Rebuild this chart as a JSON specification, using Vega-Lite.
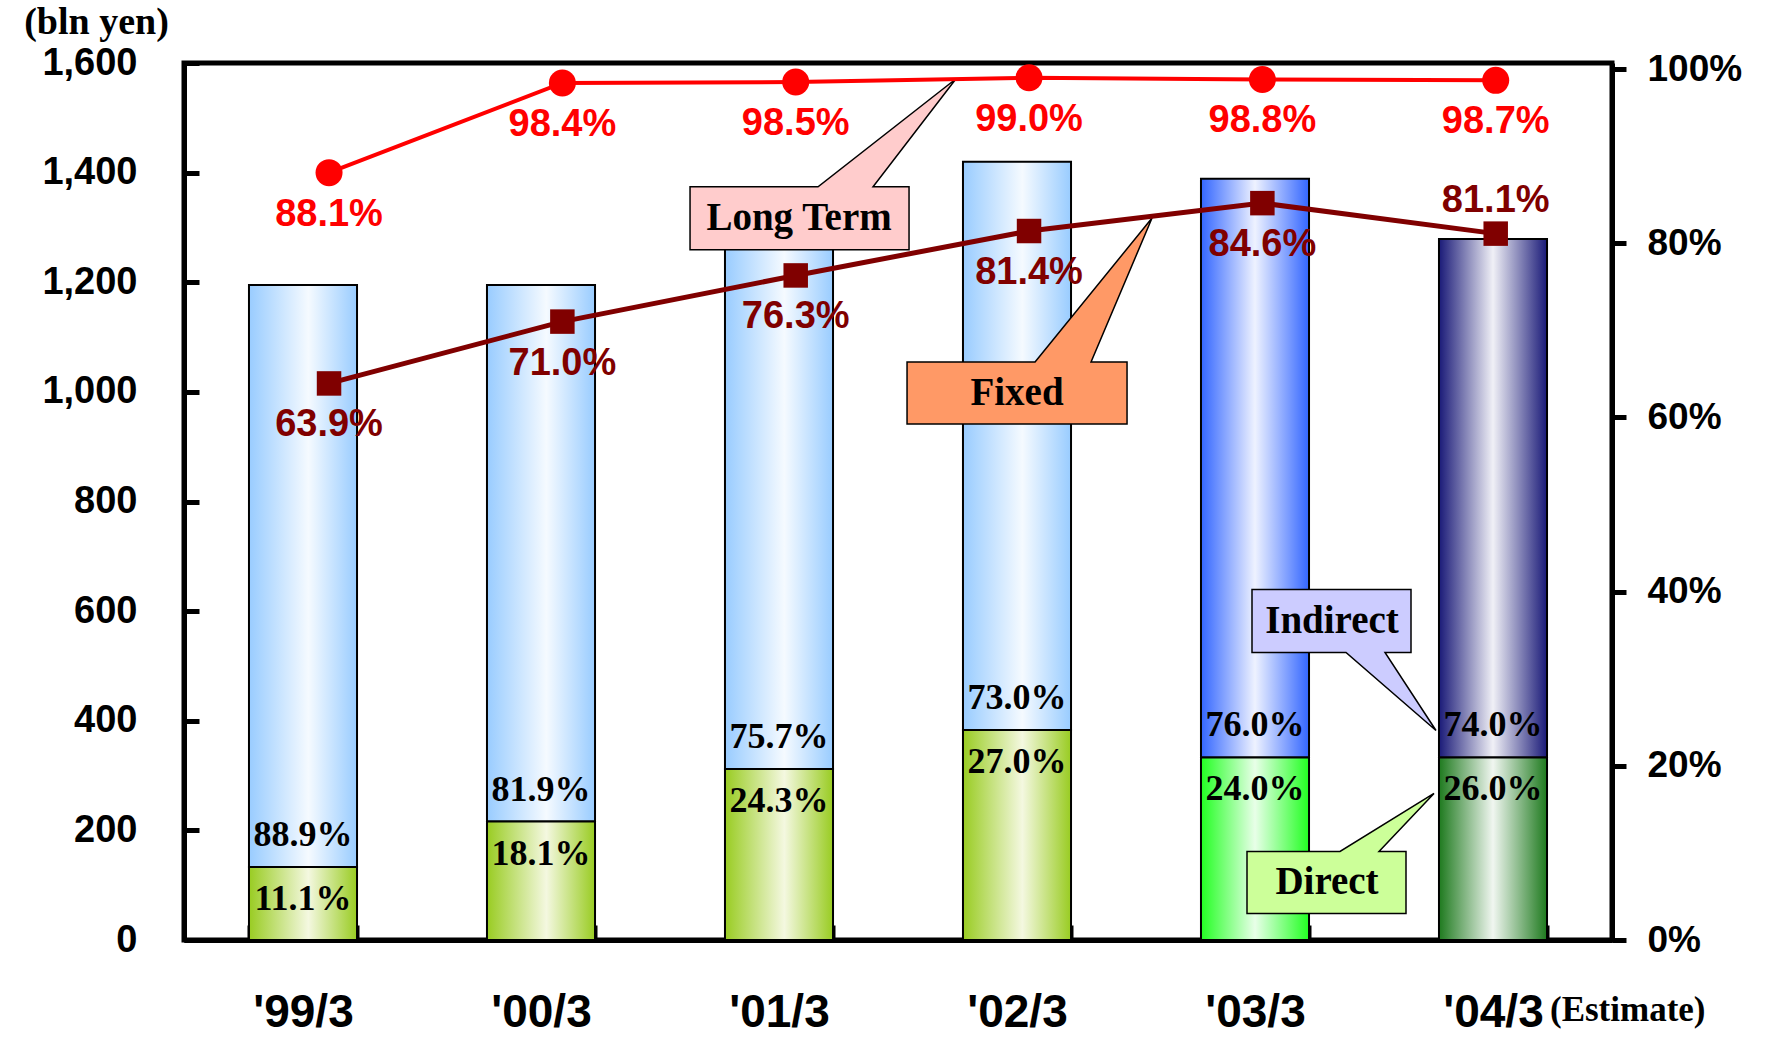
{
  "$schema": "https://vega.github.io/schema/vega-lite/v6.json",
  "width": 1428,
  "height": 877,
  "autosize": {"type": "none"},
  "padding": {"left": 184, "top": 63, "right": 155, "bottom": 100},
  "background": "white",
  "config": {"view": {"stroke": "black", "strokeWidth": 5}, "axis": {"grid": false}},
  "data": {
    "values": [
      {"year": "'99/3", "direct": 133, "indirect": 1062, "dpct": 0.111, "ipct": 0.889, "longterm": 0.881, "fixed": 0.639},
      {"year": "'00/3", "direct": 216, "indirect": 979, "dpct": 0.181, "ipct": 0.819, "longterm": 0.984, "fixed": 0.710},
      {"year": "'01/3", "direct": 312, "indirect": 973, "dpct": 0.243, "ipct": 0.757, "longterm": 0.985, "fixed": 0.763},
      {"year": "'02/3", "direct": 383, "indirect": 1037, "dpct": 0.270, "ipct": 0.730, "longterm": 0.990, "fixed": 0.814},
      {"year": "'03/3", "direct": 333, "indirect": 1056, "dpct": 0.240, "ipct": 0.760, "longterm": 0.988, "fixed": 0.846},
      {"year": "'04/3", "direct": 333, "indirect": 946, "dpct": 0.260, "ipct": 0.740, "longterm": 0.987, "fixed": 0.811}
    ]
  },
  "layer": [
    {
      "encoding": {
        "x": {
          "field": "year",
          "type": "nominal",
          "scale": {"domain": ["'99/3", "'00/3", "'01/3", "'02/3", "'03/3", "'04/3"], "paddingInner": 0.546, "paddingOuter": 0.273},
          "axis": {
            "title": null,
            "labelAngle": 0,
            "domainColor": "black",
            "domainWidth": 5,
            "tickColor": "black",
            "tickWidth": 4,
            "tickSize": -15,
            "tickBand": "extent",
            "labelFont": "Liberation Sans",
            "labelFontWeight": "bold",
            "labelFontSize": 46,
            "labelColor": "black",
            "labelBaseline": "middle",
            "labelPadding": 87
          }
        }
      },
      "layer": [
        {
          "transform": [
            {"fold": ["direct", "indirect"], "as": ["seg", "amount"]},
            {"stack": "amount", "groupby": ["year"], "sort": [{"field": "seg"}], "as": ["y0", "y1"]}
          ],
          "encoding": {
            "y": {
              "field": "y1",
              "type": "quantitative",
              "scale": {"domain": [0, 1600], "nice": false},
              "axis": {
                "title": "(bln yen)",
                "titleAngle": 0,
                "titleFont": "Liberation Serif",
                "titleFontSize": 38,
                "titleFontWeight": "bold",
                "titleColor": "black",
                "titleX": -88,
                "titleY": -41,
                "titleAlign": "center",
                "titleBaseline": "middle",
                "values": [0, 200, 400, 600, 800, 1000, 1200, 1400, 1600],
                "labelExpr": "format(datum.value, ',')",
                "labelFont": "Liberation Sans",
                "labelFontSize": 38,
                "labelFontWeight": "bold",
                "labelColor": "black",
                "labelFlush": false,
                "labelOverlap": false,
                "labelBaseline": "middle",
                "domainColor": "black",
                "domainWidth": 5,
                "tickColor": "black",
                "tickWidth": 5,
                "tickSize": -15,
                "labelPadding": 62
              }
            },
            "y2": {"field": "y0"}
          },
          "layer": [
            {
              "transform": [{"filter": "datum.seg == 'indirect' && indexof(['\\'99/3','\\'00/3','\\'01/3','\\'02/3'], datum.year) >= 0"}],
              "mark": {"type": "bar", "stroke": "black", "strokeWidth": 2,
                "color": {"gradient": "linear", "x1": 0, "y1": 0, "x2": 1, "y2": 0,
                  "stops": [{"offset": 0, "color": "#99CCFF"}, {"offset": 0.55, "color": "#F5FAFF"}, {"offset": 1, "color": "#99CCFF"}]}}
            },
            {
              "transform": [{"filter": "datum.seg == 'direct' && indexof(['\\'99/3','\\'00/3','\\'01/3','\\'02/3'], datum.year) >= 0"}],
              "mark": {"type": "bar", "stroke": "black", "strokeWidth": 2,
                "color": {"gradient": "linear", "x1": 0, "y1": 0, "x2": 1, "y2": 0,
                  "stops": [{"offset": 0, "color": "#99CC22"}, {"offset": 0.55, "color": "#F4F8E0"}, {"offset": 1, "color": "#99CC22"}]}}
            },
            {
              "transform": [{"filter": "datum.seg == 'indirect' && datum.year == '\\'03/3'"}],
              "mark": {"type": "bar", "stroke": "black", "strokeWidth": 2,
                "color": {"gradient": "linear", "x1": 0, "y1": 0, "x2": 1, "y2": 0,
                  "stops": [{"offset": 0, "color": "#3366FF"}, {"offset": 0.5, "color": "#EEF2FF"}, {"offset": 1, "color": "#3366FF"}]}}
            },
            {
              "transform": [{"filter": "datum.seg == 'direct' && datum.year == '\\'03/3'"}],
              "mark": {"type": "bar", "stroke": "black", "strokeWidth": 2,
                "color": {"gradient": "linear", "x1": 0, "y1": 0, "x2": 1, "y2": 0,
                  "stops": [{"offset": 0, "color": "#22FF22"}, {"offset": 0.5, "color": "#E8FFE8"}, {"offset": 1, "color": "#22FF22"}]}}
            },
            {
              "transform": [{"filter": "datum.seg == 'indirect' && datum.year == '\\'04/3'"}],
              "mark": {"type": "bar", "stroke": "black", "strokeWidth": 2,
                "color": {"gradient": "linear", "x1": 0, "y1": 0, "x2": 1, "y2": 0,
                  "stops": [{"offset": 0, "color": "#1A1A78"}, {"offset": 0.5, "color": "#F0F0F6"}, {"offset": 1, "color": "#1A1A78"}]}}
            },
            {
              "transform": [{"filter": "datum.seg == 'direct' && datum.year == '\\'04/3'"}],
              "mark": {"type": "bar", "stroke": "black", "strokeWidth": 2,
                "color": {"gradient": "linear", "x1": 0, "y1": 0, "x2": 1, "y2": 0,
                  "stops": [{"offset": 0, "color": "#1E7A1E"}, {"offset": 0.5, "color": "#F0F6F0"}, {"offset": 1, "color": "#1E7A1E"}]}}
            }
          ]
        },
        {
          "mark": {"type": "text", "font": "Liberation Serif", "fontWeight": "bold", "fontSize": 36, "color": "black", "align": "center", "baseline": "middle", "dy": -32},
          "encoding": {
            "y": {"field": "direct", "type": "quantitative"},
            "text": {"field": "ipct", "type": "quantitative", "format": ".1%"}
          }
        },
        {
          "mark": {"type": "text", "font": "Liberation Serif", "fontWeight": "bold", "fontSize": 36, "color": "black", "align": "center", "baseline": "middle", "dy": 32},
          "encoding": {
            "y": {"field": "direct", "type": "quantitative"},
            "text": {"field": "dpct", "type": "quantitative", "format": ".1%"}
          }
        },
        {
          "transform": [{"filter": "datum.year == '\\'04/3'"}],
          "mark": {"type": "point", "filled": true, "opacity": 1, "size": 4, "fill": "#CCCCFF", "stroke": "black", "strokeWidth": 1.5,
            "shape": "M -241 -168 L -82 -168 L -82 -105 L -108 -105 L -57 -27 L -147 -105 L -241 -105 Z"},
          "encoding": {"y": {"field": "direct", "type": "quantitative"}}
        },
        {
          "transform": [{"filter": "datum.year == '\\'04/3'"}],
          "mark": {"type": "point", "filled": true, "opacity": 1, "size": 4, "fill": "#CCFF99", "stroke": "black", "strokeWidth": 1.5,
            "shape": "M -246 94 L -153 94 L -59 36 L -114 94 L -87 94 L -87 156 L -246 156 Z"},
          "encoding": {"y": {"field": "direct", "type": "quantitative"}}
        },
        {
          "transform": [{"filter": "datum.year == '\\'04/3'"}],
          "mark": {"type": "text", "text": "Indirect", "font": "Liberation Serif", "fontWeight": "bold", "fontSize": 39, "color": "black", "align": "center", "baseline": "middle", "dx": -161, "dy": -136},
          "encoding": {"y": {"field": "direct", "type": "quantitative"}}
        },
        {
          "transform": [{"filter": "datum.year == '\\'04/3'"}],
          "mark": {"type": "text", "text": "Direct", "font": "Liberation Serif", "fontWeight": "bold", "fontSize": 39, "color": "black", "align": "center", "baseline": "middle", "dx": -166, "dy": 125},
          "encoding": {"y": {"field": "direct", "type": "quantitative"}}
        },
        {
          "transform": [{"filter": "datum.year == '\\'04/3'"}],
          "mark": {"type": "text", "text": "(Estimate)", "font": "Liberation Serif", "fontWeight": "bold", "fontSize": 35, "color": "black", "align": "left", "baseline": "middle", "dx": 57, "dy": 70},
          "encoding": {"y": {"datum": 0, "type": "quantitative"}}
        }
      ]
    },
    {
      "encoding": {
        "x": {
          "field": "year",
          "type": "nominal",
          "scale": {"type": "point", "domain": ["'99/3", "'00/3", "'01/3", "'02/3", "'03/3", "'04/3"], "padding": 0.56, "align": 0.555},
          "axis": null
        }
      },
      "layer": [
        {
          "transform": [{"filter": "datum.year == '\\'02/3'"}],
          "mark": {"type": "point", "filled": true, "opacity": 1, "size": 4, "fill": "#FFCCCC", "stroke": "black", "strokeWidth": 1.5,
            "shape": "M -339 109 L -211 109 L -73 1 L -156 109 L -120 109 L -120 172 L -339 172 Z"},
          "encoding": {
            "y": {
              "field": "longterm",
              "type": "quantitative",
              "scale": {"domain": [0, 1.0069], "nice": false},
              "axis": {
                "orient": "right",
                "title": null,
                "values": [0, 0.2, 0.4, 0.6, 0.8, 1],
                "labelExpr": "format(datum.value, '.0%')",
                "labelFont": "Liberation Sans",
                "labelFontSize": 37,
                "labelFontWeight": "bold",
                "labelColor": "black",
                "labelFlush": false,
                "labelOverlap": false,
                "labelBaseline": "middle",
                "domainColor": "black",
                "domainWidth": 5,
                "tickColor": "black",
                "tickWidth": 5,
                "tickSize": 14,
                "labelPadding": 21
              }
            }
          }
        },
        {
          "transform": [{"filter": "datum.year == '\\'02/3'"}],
          "mark": {"type": "point", "filled": true, "opacity": 1, "size": 4, "fill": "#FF9966", "stroke": "black", "strokeWidth": 1.5,
            "shape": "M -122 131 L 6 131 L 123 -13 L 62 131 L 98 131 L 98 193 L -122 193 Z"},
          "encoding": {"y": {"field": "fixed", "type": "quantitative"}}
        },
        {
          "transform": [{"filter": "datum.year == '\\'02/3'"}],
          "mark": {"type": "text", "text": "Long Term", "font": "Liberation Serif", "fontWeight": "bold", "fontSize": 39, "color": "black", "align": "center", "baseline": "middle", "dx": -230, "dy": 140},
          "encoding": {"y": {"field": "longterm", "type": "quantitative"}}
        },
        {
          "transform": [{"filter": "datum.year == '\\'02/3'"}],
          "mark": {"type": "text", "text": "Fixed", "font": "Liberation Serif", "fontWeight": "bold", "fontSize": 39, "color": "black", "align": "center", "baseline": "middle", "dx": -12, "dy": 162},
          "encoding": {"y": {"field": "fixed", "type": "quantitative"}}
        },
        {
          "mark": {"type": "line", "color": "#FF0000", "strokeWidth": 4},
          "encoding": {"y": {"field": "longterm", "type": "quantitative"}}
        },
        {
          "mark": {"type": "point", "shape": "circle", "filled": true, "opacity": 1, "size": 729, "color": "#FF0000"},
          "encoding": {"y": {"field": "longterm", "type": "quantitative"}}
        },
        {
          "mark": {"type": "text", "font": "Liberation Sans", "fontWeight": "bold", "fontSize": 38, "color": "#FF0000", "align": "center", "baseline": "middle", "dy": 42},
          "encoding": {
            "y": {"field": "longterm", "type": "quantitative"},
            "text": {"field": "longterm", "type": "quantitative", "format": ".1%"}
          }
        },
        {
          "mark": {"type": "line", "color": "#800000", "strokeWidth": 5},
          "encoding": {"y": {"field": "fixed", "type": "quantitative"}}
        },
        {
          "mark": {"type": "point", "shape": "square", "filled": true, "opacity": 1, "size": 600, "color": "#800000"},
          "encoding": {"y": {"field": "fixed", "type": "quantitative"}}
        },
        {
          "transform": [{"filter": "datum.year != '\\'04/3'"}],
          "mark": {"type": "text", "font": "Liberation Sans", "fontWeight": "bold", "fontSize": 38, "color": "#800000", "align": "center", "baseline": "middle", "dy": 42},
          "encoding": {
            "y": {"field": "fixed", "type": "quantitative"},
            "text": {"field": "fixed", "type": "quantitative", "format": ".1%"}
          }
        },
        {
          "transform": [{"filter": "datum.year == '\\'04/3'"}],
          "mark": {"type": "text", "font": "Liberation Sans", "fontWeight": "bold", "fontSize": 38, "color": "#800000", "align": "center", "baseline": "middle", "dy": -33},
          "encoding": {
            "y": {"field": "fixed", "type": "quantitative"},
            "text": {"field": "fixed", "type": "quantitative", "format": ".1%"}
          }
        }
      ]
    }
  ],
  "resolve": {"scale": {"x": "independent", "y": "independent"}}
}
